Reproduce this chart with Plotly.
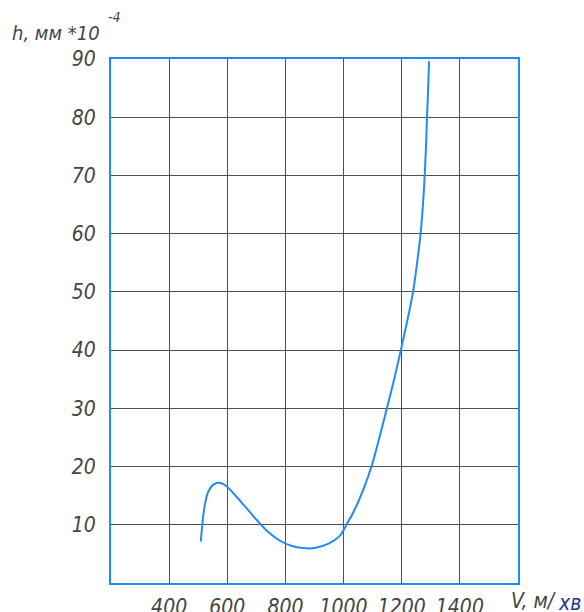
import plotly.graph_objects as go

# Curve data
V = [509, 515, 522, 534, 552, 572, 595, 625, 660, 700, 740, 780, 820, 860, 900,
     950, 985, 1010, 1040, 1070, 1096, 1124, 1149, 1174, 1197, 1219, 1239, 1253,
     1265, 1273, 1279, 1283.5, 1287, 1291, 1294]
h = [7.1, 10.5, 13.2, 15.6, 16.9, 17.2, 16.7, 15.2, 13.2, 10.9, 8.8, 7.3, 6.4, 6.0, 6.0,
     6.8, 8.0, 10.0, 12.8, 16.3, 20.0, 25.1, 30.0, 35.0, 40.0, 45.0, 50.0, 55.0,
     60.0, 65.0, 70.0, 75.0, 80.0, 85.0, 89.6]

x_ticks = [400, 600, 800, 1000, 1200, 1400]
y_ticks = [10, 20, 30, 40, 50, 60, 70, 80, 90]

FONT = "Liberation Sans Narrow, DejaVu Sans Condensed, Liberation Sans, sans-serif"
TXT = "#454545"
BLUE = "#1a8cff"
GRID = "#505050"

W, H = 584, 612
l, r, t, b = 111, 66, 59, 29
pw, ph = W - l - r, H - t - b


def px2paper(px, py):
    return (px - l) / pw, (H - b - py) / ph


fig = go.Figure()
fig.add_trace(go.Scatter(x=V, y=h, mode="lines",
                         line=dict(color="#2289ff", width=2, shape="spline", smoothing=1.0),
                         hoverinfo="skip", showlegend=False))

axis_font = dict(family=FONT, size=21, color=TXT, style="italic")
fig.update_layout(
    template="none",
    width=W, height=H,
    margin=dict(l=l, r=r, t=t, b=b, pad=0),
    paper_bgcolor="white", plot_bgcolor="white",
    xaxis=dict(range=[200, 1600], tickvals=x_ticks, ticktext=[str(v) for v in x_ticks],
               showgrid=True, gridcolor=GRID, gridwidth=1.3, automargin=False,
               showline=True, linecolor=BLUE, linewidth=2, mirror=True,
               zeroline=False, ticks="", ticklabelstandoff=4, tickfont=axis_font),
    yaxis=dict(range=[0, 90], tickvals=y_ticks, ticktext=[str(v) for v in y_ticks],
               showgrid=True, gridcolor=GRID, gridwidth=1.3, automargin=False,
               showline=True, linecolor=BLUE, linewidth=2, mirror=True,
               zeroline=False, ticks="", ticklabelstandoff=9, tickfont=axis_font),
)

ann = [
    ("h, мм *10", 10, 33, 20, TXT),
    ("-4", 106, 17, 14, TXT),
    ("V, м/", 509, 601, 21, TXT),
    ("хв", 556, 603, 21, "#1c3a8a"),
]
for text, px, py, size, col in ann:
    x, y = px2paper(px, py)
    fig.add_annotation(text=text, x=x, y=y, xref="paper", yref="paper",
                       xanchor="left", yanchor="middle", showarrow=False,
                       font=dict(family=FONT, size=size, color=col, style="italic"))

fig.write_html("out.html", config={"displayModeBar": False},
               post_script="document.body.style.margin='0';document.body.style.overflow='hidden';")
